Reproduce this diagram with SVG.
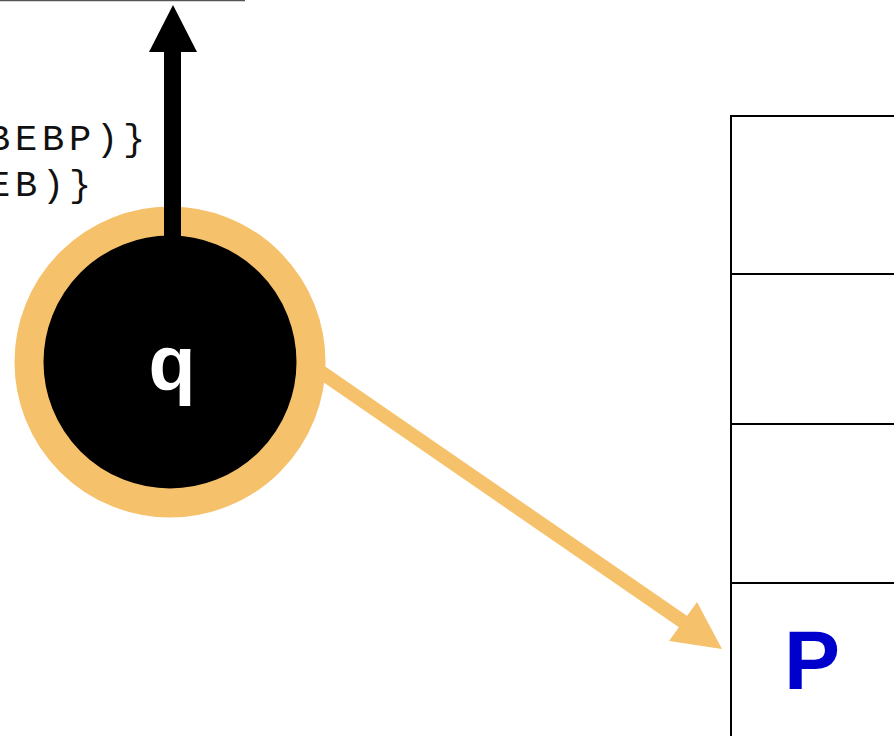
<svg xmlns="http://www.w3.org/2000/svg" width="894" height="736" viewBox="0 0 894 736">
<defs>
<style>
.code{font-family:"Liberation Mono","Courier New",monospace;font-size:37px;fill:#111;letter-spacing:4.8px}
.cell{fill:#fff;stroke:#000;stroke-width:2}
</style>
</defs>
<rect width="894" height="736" fill="#fff"/>
<line x1="0" y1="0.5" x2="245" y2="0.5" stroke="#555" stroke-width="1.5"/>
<g id="labels">
<text class="code" x="-12" y="150">BEBP)}</text>
<text class="code" x="-12" y="196">EB)}</text>
</g>
<g id="stack">
<rect class="cell" x="731" y="116" width="164" height="158"/>
<rect class="cell" x="731" y="274" width="164" height="150"/>
<rect class="cell" x="731" y="424" width="164" height="159"/>
<rect class="cell" x="731" y="583" width="164" height="170"/>
<text x="812" y="689" text-anchor="middle" font-family="Liberation Sans, Arial, sans-serif" font-weight="bold" font-size="84" fill="#0000CC">P</text>
</g>
<g id="connectors">
<line x1="318" y1="370" x2="688" y2="625" stroke="#F6C16B" stroke-width="14"/>
<polygon points="722,649 669,641 697,602" fill="#F6C16B"/>
</g>
<g id="node-q">
<circle cx="170" cy="362" r="141" fill="#000" stroke="#F6C16B" stroke-width="29"/>
<text x="172" y="390" text-anchor="middle" font-family="Liberation Sans, Arial, sans-serif" font-weight="bold" font-size="77" fill="#fff">q</text>
</g>
<g id="up-arrow">
<rect x="164" y="50" width="17" height="186" fill="#000"/>
<polygon points="149,52 197,52 173,5" fill="#000"/>
</g>
</svg>
